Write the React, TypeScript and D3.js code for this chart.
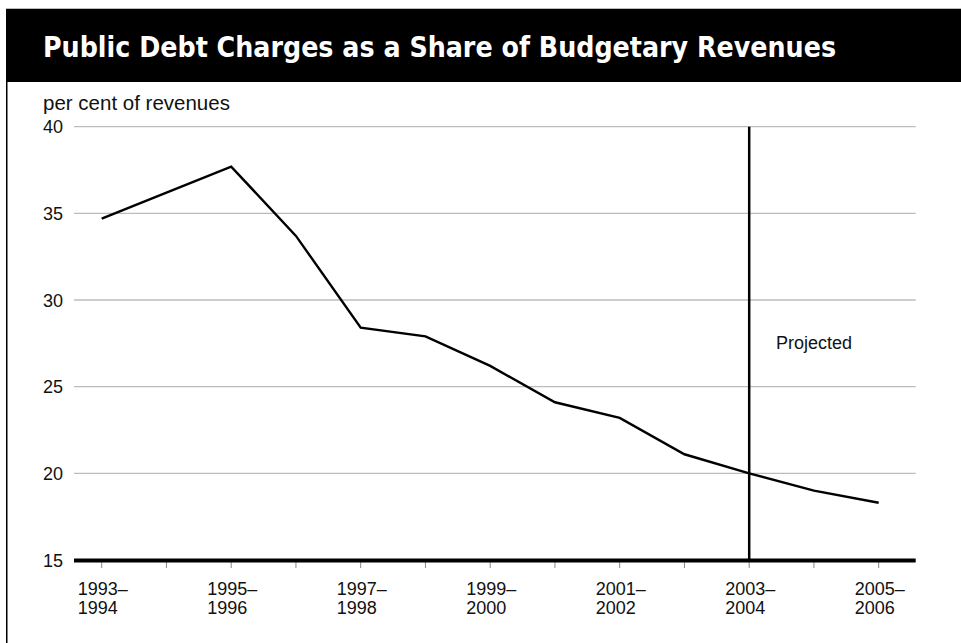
import React from "react";
import * as d3 from "d3";

const categories = [
  "1993–1994", "1994–1995", "1995–1996", "1996–1997", "1997–1998",
  "1998–1999", "1999–2000", "2000–2001", "2001–2002", "2002–2003",
  "2003–2004", "2004–2005", "2005–2006",
];
const labeledCategories = [
  "1993–1994", "1995–1996", "1997–1998", "1999–2000",
  "2001–2002", "2003–2004", "2005–2006",
];
const debtShare = [34.7, 36.2, 37.7, 33.7, 28.4, 27.9, 26.2, 24.1, 23.2, 21.1, 20.0, 19.0, 18.3];
const yTicks = [15, 20, 25, 30, 35, 40];
const projectedFrom = "2003–2004";

const title = "Public Debt Charges as a Share of Budgetary Revenues";
const yAxisTitle = "per cent of revenues";
const projectedLabel = "Projected";

const W = 961;
const H = 643;
const FONT = "'Liberation Sans', Arial, Helvetica, sans-serif";

export default function App() {
  const x = d3.scalePoint<string>().domain(categories).range([101.7, 878.7]);
  const y = d3.scaleLinear().domain([15, 40]).range([560, 126.7]);
  const gridLeft = 74;
  const gridRight = 915.7;

  const line = d3
    .line<number>()
    .x((_, i) => x(categories[i]) as number)
    .y((d) => y(d));

  const px = x(projectedFrom) as number;

  return (
    <svg
      width={W}
      height={H}
      viewBox={`0 0 ${W} ${H}`}
      style={{ position: "absolute", left: 0, top: 0, display: "block", background: "#fff" }}
    >
      {/* header band */}
      <rect x={6} y={9} width={W - 6} height={73} fill="#000" />
      <line x1={6} x2={W} y1={8.5} y2={8.5} stroke="#bbb" strokeWidth={1} />
      <text
        x={43}
        y={56.5}
        fill="#fff"
        fontFamily="'DejaVu Sans', sans-serif"
        fontWeight="bold"
        fontSize={29}
        textLength={793}
        lengthAdjust="spacingAndGlyphs"
      >
        {title}
      </text>
      {/* left frame border */}
      <line x1={6.75} x2={6.75} y1={82} y2={H} stroke="#000" strokeWidth={1.5} />

      {/* y axis title */}
      <text x={43} y={110} fontFamily={FONT} fontSize={20.5} fill="#111">
        {yAxisTitle}
      </text>

      {/* gridlines */}
      {yTicks
        .filter((t) => t !== 15)
        .map((t) => (
          <line
            key={t}
            x1={gridLeft}
            x2={gridRight}
            y1={y(t)}
            y2={y(t)}
            stroke="#bcbcbc"
            strokeWidth={1.3}
          />
        ))}

      {/* y tick labels */}
      {yTicks.map((t) => (
        <text key={t} x={43} y={y(t) + 6.5} fontFamily={FONT} fontSize={18} fill="#111">
          {t}
        </text>
      ))}

      {/* x ticks */}
      {categories.map((c) => (
        <line
          key={c}
          x1={x(c)}
          x2={x(c)}
          y1={562}
          y2={568}
          stroke="#888"
          strokeWidth={1}
        />
      ))}

      {/* x labels */}
      {labeledCategories.map((c) => {
        const [a, b] = c.split("–");
        const cx = (x(c) as number) - 24;
        return (
          <text key={c} fontFamily={FONT} fontSize={18} fill="#111">
            <tspan x={cx} y={595}>{a + "–"}</tspan>
            <tspan x={cx} y={614}>{b}</tspan>
          </text>
        );
      })}

      {/* projected divider */}
      <line x1={px} x2={px} y1={y(40)} y2={560} stroke="#000" strokeWidth={2.5} />
      <text x={776} y={349} fontFamily={FONT} fontSize={18} fill="#111">
        {projectedLabel}
      </text>

      {/* data line */}
      <path
        d={line(debtShare) || ""}
        fill="none"
        stroke="#000"
        strokeWidth={2.4}
        strokeLinejoin="miter"
      />

      {/* baseline */}
      <line x1={gridLeft} x2={gridRight} y1={560.5} y2={560.5} stroke="#000" strokeWidth={4.2} />
    </svg>
  );
}
